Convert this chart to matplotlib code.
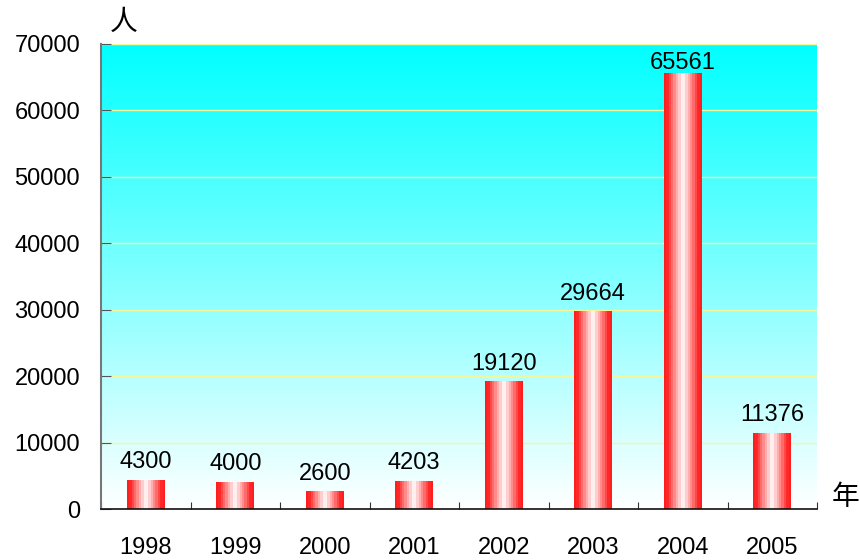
import numpy as np
import matplotlib
matplotlib.use("Agg")
import matplotlib.pyplot as plt
from matplotlib.colors import LinearSegmentedColormap

years = ["1998", "1999", "2000", "2001", "2002", "2003", "2004", "2005"]
people = [4300, 4000, 2600, 4203, 19120, 29664, 65561, 11376]
y_ticks = [0, 10000, 20000, 30000, 40000, 50000, 60000, 70000]

plt.rcParams["font.family"] = ["Liberation Sans", "Noto Sans CJK SC", "DejaVu Sans"]

fig = plt.figure(figsize=(8.6, 5.6), dpi=100)
ax = fig.add_axes([101 / 860, 1 - 509 / 560, (817 - 101) / 860, (509 - 44) / 560])

n = len(years)
ymax = 70000

# vertical background gradient: cyan at top fading to white
bg = np.linspace(0, 1, 256)[:, None]
bg_cmap = LinearSegmentedColormap.from_list("bg", [(1, 1, 1), (0.0, 1.0, 1.0)])
ax.imshow(bg, cmap=bg_cmap, aspect="auto", extent=[0, n, 0, ymax],
          origin="lower", zorder=0, interpolation="bilinear")

for t in y_ticks[1:]:
    ax.axhline(t, color="#f5f59a", lw=1.0, zorder=1)

# banded red-white-red bars
steps = 16
xs = np.linspace(-1, 1, steps)
shade = np.clip(np.abs(xs) * 1.1, 0, 1)
bar_cmap = LinearSegmentedColormap.from_list("bar", [(1, 1, 1), (1.0, 0.12, 0.12)])
bar_w = 0.42

# value labels sit a fixed gap above each bar, kept inside the plot top
gap = ymax * 12 / 465
label_cap = ymax * 440 / 465
for i, v in enumerate(people):
    cx = i + 0.5
    ax.imshow(shade[None, :], cmap=bar_cmap, vmin=0, vmax=1, aspect="auto",
              extent=[cx - bar_w / 2, cx + bar_w / 2, 0, v],
              interpolation="nearest", zorder=2)
    ax.text(cx, min(v + gap, label_cap), str(v), ha="center", va="baseline",
            fontsize=17, zorder=3)

ax.set_xlim(0, n)
ax.set_ylim(0, ymax)
ax.set_xticks(np.arange(0, n + 1))
ax.set_xticklabels([])
ax.set_xticks(np.arange(n) + 0.5, minor=True)
ax.set_xticklabels(years, minor=True, fontsize=17)
ax.tick_params(axis="x", which="major", direction="in", length=5, color="#333333")
ax.tick_params(axis="x", which="minor", length=0, pad=20)
ax.set_yticks(y_ticks)
ax.set_yticklabels([str(t) for t in y_ticks], fontsize=17)
ax.tick_params(axis="y", direction="in", length=7, color="#555555", pad=15)

ax.spines["top"].set_visible(False)
ax.spines["right"].set_visible(False)
ax.spines["left"].set_color("#777777")
ax.spines["left"].set_linewidth(1.5)
ax.spines["bottom"].set_color("#111111")
ax.spines["bottom"].set_linewidth(1.2)

fig.text(124 / 860, 1 - 22 / 560, "人", fontsize=20, ha="center", va="center",
         family=["Noto Sans CJK SC", "DejaVu Sans"])
fig.text(846 / 860, 1 - 497 / 560, "年", fontsize=20, ha="center", va="center",
         family=["Noto Sans CJK SC", "DejaVu Sans"])

fig.savefig("out.png", dpi=100)
